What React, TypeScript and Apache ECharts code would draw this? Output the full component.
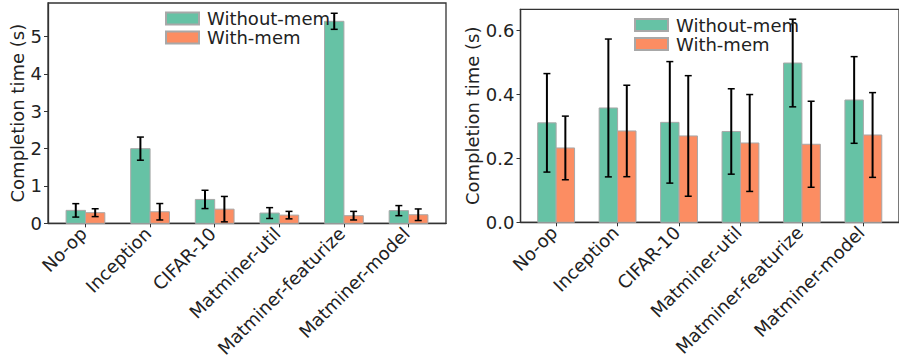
import React, { useEffect, useRef } from "react";
import * as echarts from "echarts";

const categories = ["No-op", "Inception", "CIFAR-10", "Matminer-util", "Matminer-featurize", "Matminer-model"];

// Left panel
const leftWithoutMem = [0.347, 2.0, 0.64, 0.275, 5.41, 0.34];
const leftWithoutMemErr = [0.18, 0.31, 0.245, 0.145, 0.215, 0.135];
const leftWithMem = [0.285, 0.31, 0.38, 0.22, 0.205, 0.23];
const leftWithMemErr = [0.105, 0.22, 0.34, 0.1, 0.115, 0.155];
const leftTicks = [0, 1, 2, 3, 4, 5];

// Right panel
const rightWithoutMem = [0.311, 0.3575, 0.3125, 0.284, 0.498, 0.3825];
const rightWithoutMemErr = [0.154, 0.2155, 0.19, 0.1335, 0.137, 0.1355];
const rightWithMem = [0.2325, 0.2856, 0.27, 0.248, 0.244, 0.273];
const rightWithMemErr = [0.0995, 0.143, 0.1885, 0.1515, 0.1345, 0.1325];
const rightTicks = [0, 0.2, 0.4, 0.6];

const GREEN = "#66c2a5";
const ORANGE = "#fc8d62";
const EDGE = "#a8a8a8";
const FONT = "DejaVu Sans";
const FS = 18;
const TEXT = "#222222";
const SPINE = "#333333";

function makeRender(offset: number, color: string) {
  return (params: any, api: any) => {
    const x = api.value(0) + offset;
    const y = api.value(1);
    const e = api.value(2);
    const p0 = api.coord([x - 0.15, y]);
    const p1 = api.coord([x + 0.15, 0]);
    const cx = api.coord([x, 0])[0];
    const top = api.coord([x, y + e])[1];
    const bot = api.coord([x, y - e])[1];
    const cap = 3.5;
    return {
      type: "group",
      children: [
        {
          type: "rect",
          shape: { x: p0[0], y: p0[1], width: p1[0] - p0[0], height: p1[1] - p0[1] },
          style: { fill: color, stroke: EDGE, lineWidth: 1 },
          z2: 1,
        },
        { type: "line", shape: { x1: cx, y1: top, x2: cx, y2: bot }, style: { stroke: "#000", lineWidth: 2 }, z2: 5 },
        { type: "line", shape: { x1: cx - cap, y1: top, x2: cx + cap, y2: top }, style: { stroke: "#000", lineWidth: 1.5 }, z2: 5 },
        { type: "line", shape: { x1: cx - cap, y1: bot, x2: cx + cap, y2: bot }, style: { stroke: "#000", lineWidth: 1.5 }, z2: 5 },
      ],
    };
  };
}

function seriesData(vals: number[], errs: number[]) {
  return vals.map((v, i) => [i, v, errs[i]]);
}

export default function App() {
  const ref = useRef<HTMLDivElement>(null);
  useEffect(() => {
    if (!ref.current) return;
    const chart = echarts.init(ref.current, undefined, { renderer: "svg" });
    const catIdx = categories.map((_, i) => i);

    const xAxisBase = (gridIndex: number) => ({
      type: "value",
      gridIndex,
      min: -0.58,
      max: 5.58,
      splitLine: { show: false },
      axisLine: { show: true, onZero: false, lineStyle: { color: SPINE, width: 1.3 } },
      axisTick: { show: true, customValues: catIdx, length: 4, lineStyle: { color: SPINE, width: 1 } },
      axisLabel: {
        customValues: catIdx,
        rotate: 45,
        margin: 5,
        fontSize: FS,
        fontFamily: FONT,
        color: TEXT,
        padding: [0, 3, 0, 0],
        formatter: (v: number) => categories[Math.round(v)] ?? "",
      },
    });

    const yAxisBase = (gridIndex: number, max: number, ticks: number[], decimals: number, nameGap: number) => ({
      type: "value",
      gridIndex,
      min: 0,
      max,
      name: "Completion time (s)",
      nameLocation: "middle",
      nameRotate: 90,
      nameGap,
      nameTextStyle: { fontSize: FS, fontFamily: FONT, color: TEXT },
      splitLine: { show: false },
      axisLine: { show: true, onZero: false, lineStyle: { color: SPINE, width: 1.3 } },
      axisTick: { show: true, customValues: ticks, length: 4, lineStyle: { color: SPINE, width: 1 } },
      axisLabel: {
        customValues: ticks,
        margin: 6,
        fontSize: FS,
        fontFamily: FONT,
        color: TEXT,
        formatter: (v: number) => v.toFixed(decimals),
      },
    });

    const legendBase = (left: number, top: number) => ({
      orient: "vertical",
      left,
      top,
      itemWidth: 33,
      itemHeight: 12,
      itemGap: 1,
      icon: "rect",
      selectedMode: false,
      data: ["Without-mem", "With-mem"],
      textStyle: { fontSize: FS, fontFamily: FONT, color: TEXT, lineHeight: 18, padding: [0, 0, 0, 3] },
    });

    chart.setOption({
      animation: false,
      backgroundColor: "#ffffff",
      grid: [
        { left: 48, top: 3, width: 398, height: 221, show: true, borderColor: SPINE, borderWidth: 1.3, backgroundColor: "transparent" },
        { left: 520.5, top: 9.3, width: 384, height: 213, show: true, borderColor: SPINE, borderWidth: 1.3, backgroundColor: "transparent" },
      ],
      xAxis: [xAxisBase(0), xAxisBase(1)],
      yAxis: [yAxisBase(0, 5.9, leftTicks, 0, 20), yAxisBase(1, 0.666, rightTicks, 1, 32)],
      legend: [legendBase(160, 4.5), legendBase(629, 11)],
      series: [
        {
          type: "custom",
          name: "Without-mem",
          xAxisIndex: 0,
          yAxisIndex: 0,
          itemStyle: { color: GREEN, borderColor: EDGE, borderWidth: 1 },
          renderItem: makeRender(-0.15, GREEN),
          data: seriesData(leftWithoutMem, leftWithoutMemErr),
        },
        {
          type: "custom",
          name: "With-mem",
          xAxisIndex: 0,
          yAxisIndex: 0,
          itemStyle: { color: ORANGE, borderColor: EDGE, borderWidth: 1 },
          renderItem: makeRender(0.15, ORANGE),
          data: seriesData(leftWithMem, leftWithMemErr),
        },
        {
          type: "custom",
          name: "Without-mem",
          xAxisIndex: 1,
          yAxisIndex: 1,
          itemStyle: { color: GREEN, borderColor: EDGE, borderWidth: 1 },
          renderItem: makeRender(-0.15, GREEN),
          data: seriesData(rightWithoutMem, rightWithoutMemErr),
        },
        {
          type: "custom",
          name: "With-mem",
          xAxisIndex: 1,
          yAxisIndex: 1,
          itemStyle: { color: ORANGE, borderColor: EDGE, borderWidth: 1 },
          renderItem: makeRender(0.15, ORANGE),
          data: seriesData(rightWithMem, rightWithMemErr),
        },
      ],
    });
    return () => chart.dispose();
  }, []);
  return (
    <div style={{ position: "fixed", left: 0, top: 0, width: 899, height: 360, background: "#fff" }}>
      <div ref={ref} style={{ width: 899, height: 360 }} />
    </div>
  );
}
